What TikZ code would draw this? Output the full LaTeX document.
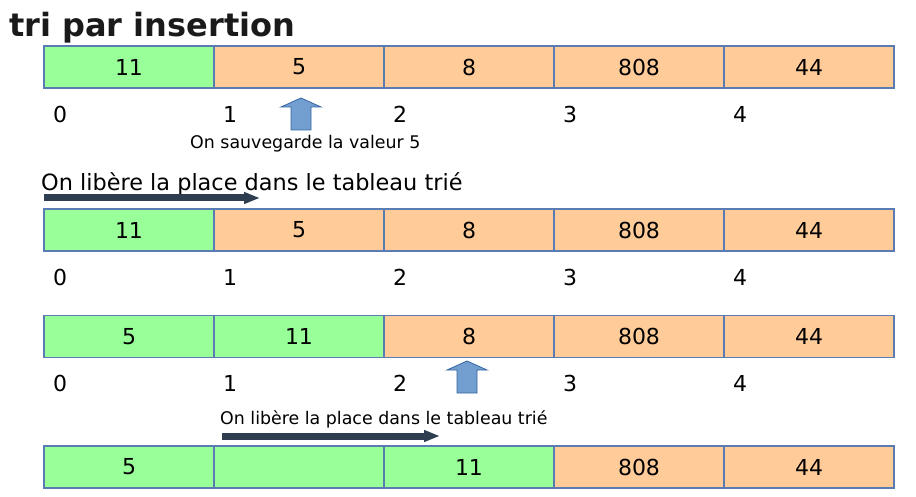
\documentclass[tikz,border=0pt]{standalone}
\usepackage{fontspec}
\setmainfont{DejaVu Sans}
\usepackage{tikz}
\usetikzlibrary{arrows.meta,positioning}
\usepackage{xcolor}
\definecolor{sortedgreen}{HTML}{99FF99}
\definecolor{restorange}{HTML}{FFCC99}
\definecolor{cellblue}{HTML}{5B7CB2}
\definecolor{savefill}{HTML}{729FCF}
\definecolor{saveline}{HTML}{3465A4}
\definecolor{pushdark}{HTML}{2E3D4F}
\definecolor{titleblack}{HTML}{1A1A1A}

\begin{document}
\begin{tikzpicture}[x=1pt, y=-1pt,
    cell/.style={rectangle, draw=cellblue, line width=1.2pt, minimum width=170pt,
                 minimum height=42pt, inner sep=0pt, font=\fontsize{22}{26}\selectfont},
    sorted/.style={cell, fill=sortedgreen},
    rest/.style={cell, fill=restorange},
    idx/.style={anchor=west, inner sep=0pt, font=\fontsize{22}{26}\selectfont},
    note/.style={anchor=west, inner sep=0pt, font=\fontsize{17.4}{21}\selectfont},
    savearrow/.style={fill=savefill, draw=saveline, line width=0.8pt},
    pusharrow/.style={draw=pushdark, line width=7pt, -{Triangle[length=16pt, width=11pt]}}
]
    \useasboundingbox (0,0) rectangle (916,497);

    % title
    \node[anchor=west, inner sep=0pt, text=titleblack, font=\fontsize{32}{38}\selectfont\bfseries] (title) at (9,28) {tri par insertion};

    % first step
    \node[sorted] (a0) at (129,67) {11};
    \node[rest]   (a1) at (299,67) {5};
    \node[rest]   (a2) at (469,67) {8};
    \node[rest]   (a3) at (639,67) {808};
    \node[rest]   (a4) at (809,67) {44};
    \node[idx] (ia0) at (53,114) {0};
    \node[idx] (ia1) at (223,114) {1};
    \node[idx] (ia2) at (393,114) {2};
    \node[idx] (ia3) at (563,114) {3};
    \node[idx] (ia4) at (733,114) {4};
    \draw[savearrow] (291,130) -- (291,107) -- (281,107) -- (301,98) -- (321,107) -- (311,107) -- (311,130) -- cycle;
    \node[note] (keep) at (190,144) {On sauvegarde la valeur 5};

    % second step
    \node[anchor=west, inner sep=0pt, font=\fontsize{22.4}{27}\selectfont] (free1) at (41,184) {On libère la place dans le tableau trié};
    \coordinate (push1s) at (44,198);
    \coordinate (push1e) at (260,198);
    \draw[pusharrow] (push1s) -- (push1e);
    \node[sorted] (b0) at (129,230) {11};
    \node[rest]   (b1) at (299,230) {5};
    \node[rest]   (b2) at (469,230) {8};
    \node[rest]   (b3) at (639,230) {808};
    \node[rest]   (b4) at (809,230) {44};
    \node[idx] (ib0) at (53,277) {0};
    \node[idx] (ib1) at (223,277) {1};
    \node[idx] (ib2) at (393,277) {2};
    \node[idx] (ib3) at (563,277) {3};
    \node[idx] (ib4) at (733,277) {4};

    % third step
    \node[sorted] (c0) at (129,336.5) {5};
    \node[sorted] (c1) at (299,336.5) {11};
    \node[rest]   (c2) at (469,336.5) {8};
    \node[rest]   (c3) at (639,336.5) {808};
    \node[rest]   (c4) at (809,336.5) {44};
    \node[idx] (ic0) at (53,383) {0};
    \node[idx] (ic1) at (223,383) {1};
    \node[idx] (ic2) at (393,383) {2};
    \node[idx] (ic3) at (563,383) {3};
    \node[idx] (ic4) at (733,383) {4};
    \draw[savearrow] (457,393) -- (457,370) -- (447,370) -- (467,361) -- (487,370) -- (477,370) -- (477,393) -- cycle;
    \node[note] (free2) at (220,419) {On libère la place dans le tableau trié};
    \coordinate (push2s) at (222,436);
    \coordinate (push2e) at (440,436);
    \draw[pusharrow] (push2s) -- (push2e);

    % fourth step
    \node[sorted] (d0) at (129,467) {5};
    \node[sorted] (d1) at (299,467) {};
    \node[sorted] (d2) at (469,467) {11};
    \node[rest]   (d3) at (639,467) {808};
    \node[rest]   (d4) at (809,467) {44};
\end{tikzpicture}
\end{document}
